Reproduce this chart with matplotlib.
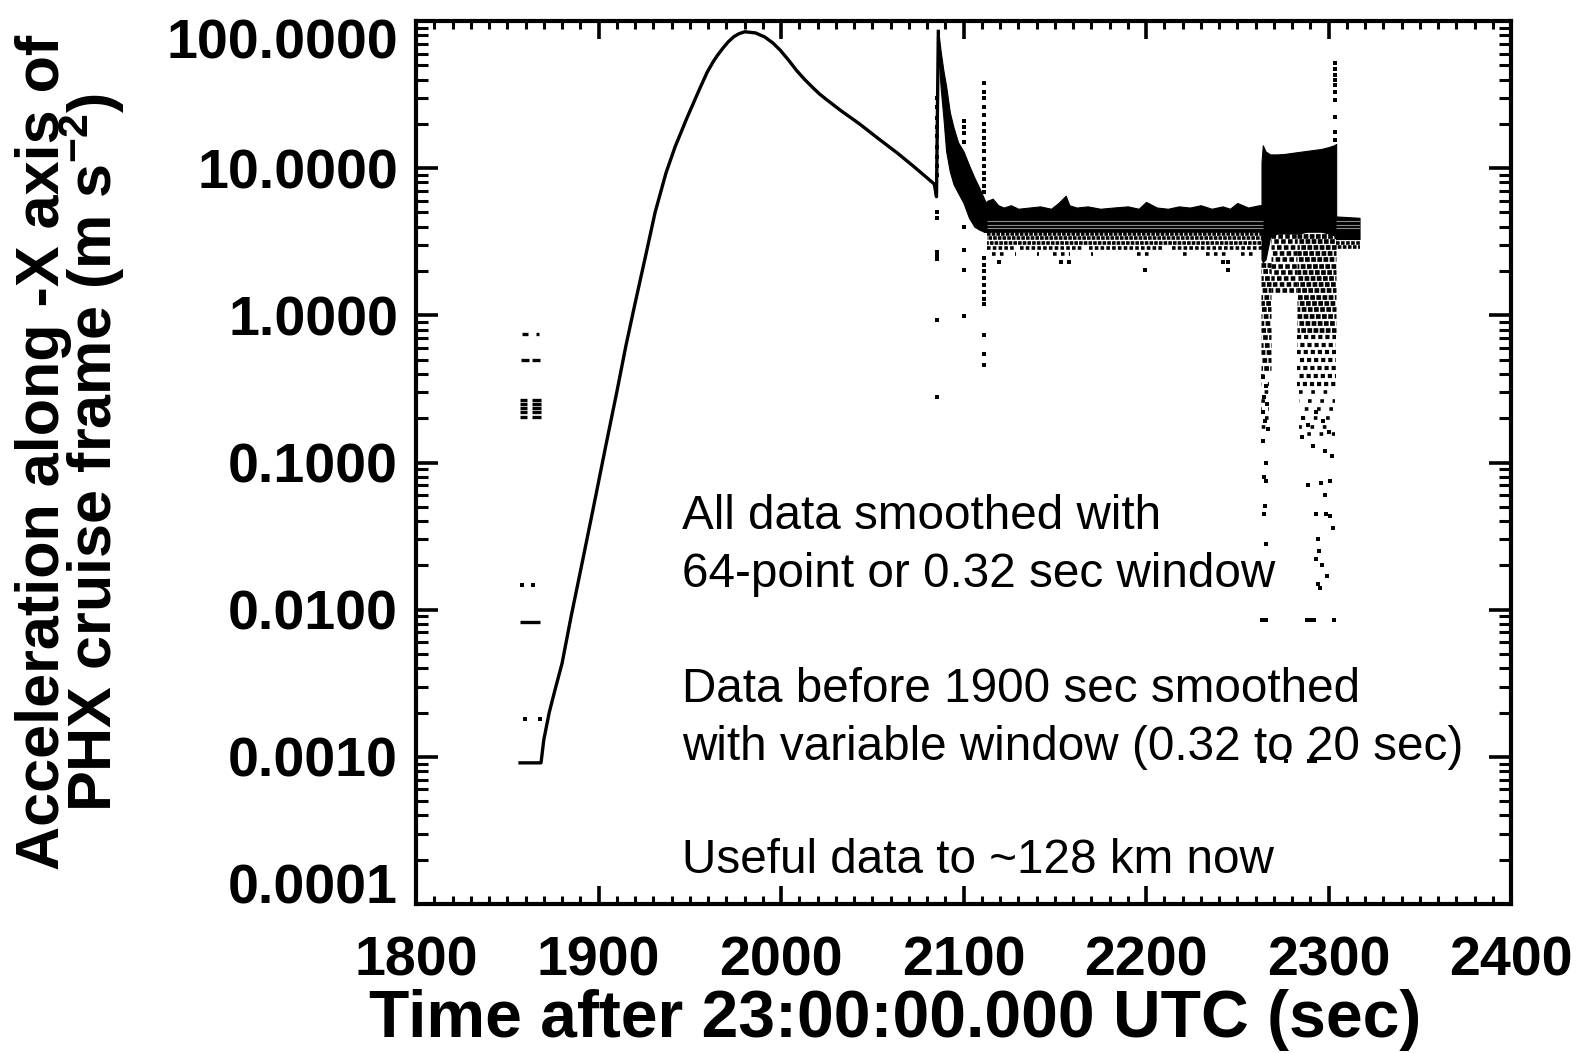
import matplotlib
matplotlib.use('Agg')
import matplotlib.pyplot as plt
import numpy as np
from matplotlib.ticker import FixedLocator, FixedFormatter, LogLocator, MultipleLocator, NullFormatter
from matplotlib.transforms import ScaledTranslation

plt.rcParams['font.family'] = ['Liberation Sans', 'DejaVu Sans']
plt.rcParams['font.weight'] = 'bold'
plt.rcParams['mathtext.fontset'] = 'custom'
plt.rcParams['mathtext.rm'] = 'Liberation Sans:bold'
plt.rcParams['mathtext.bf'] = 'Liberation Sans:bold'

# ---------------- data ----------------
xtick_values = [1800, 1900, 2000, 2100, 2200, 2300, 2400]
xtick_labels = ['1800', '1900', '2000', '2100', '2200', '2300', '2400']
ytick_values = [1e-4, 1e-3, 1e-2, 1e-1, 1, 10, 100]
ytick_labels = ['0.0001', '0.0010', '0.0100', '0.1000', '1.0000', '10.0000', '100.0000']

# main smoothed trace (time s, acceleration m/s^2)
curve_t = [1857, 1868.5, 1870, 1873, 1876, 1880, 1885, 1890, 1897, 1904,
           1910, 1915, 1920, 1926, 1931, 1937, 1942, 1948.5, 1955.6, 1959.6,
           1962.9, 1965, 1968, 1971, 1974, 1977, 1980.2, 1986, 1991, 1995.5,
           1999.5, 2004, 2008.6, 2013, 2017.7, 2021, 2025, 2033, 2043, 2053,
           2064, 2073, 2084, 2085.2, 2086.2]
curve_v = [0.00091, 0.00091, 0.0013, 0.0020, 0.0028, 0.0043, 0.0090, 0.018, 0.048, 0.13,
           0.30, 0.62, 1.2, 2.6, 5.0, 9.3, 14, 22, 35, 45,
           53, 58, 65, 72, 78, 82, 84.5, 83, 78, 71,
           63.5, 54.5, 46, 40, 35, 32, 29.2, 24.5, 20, 16,
           12.6, 10.2, 7.8, 6.4, 85]

# decaying scatter band after the spike
decay_t = [2086.2, 2087.5, 2089, 2090.5, 2092.5, 2094.5, 2097, 2100, 2103, 2106, 2109, 2111.5, 2113]
decay_hi = [85, 62, 46, 36, 24, 19, 15, 13, 10.5, 8.6, 7.2, 6.1, 5.6]
decay_lo = [60, 35, 22, 13, 9.5, 7.8, 6.8, 5.8, 4.6, 4.0, 3.8, 3.7, 3.7]

# flat noisy band
band_t = [2111, 2113, 2116, 2119, 2122, 2126, 2130, 2136, 2142, 2148, 2152, 2156, 2158, 2162,
          2168, 2175, 2182, 2190, 2196, 2200, 2206, 2212, 2218, 2224, 2230, 2236, 2242, 2246,
          2250, 2256, 2262, 2264]
band_hi = [5.5, 6.0, 6.2, 5.6, 5.4, 5.6, 5.3, 5.4, 5.5, 5.3, 5.8, 6.5, 5.6, 5.4,
           5.5, 5.3, 5.4, 5.5, 5.3, 5.9, 5.4, 5.3, 5.5, 5.4, 5.6, 5.3, 5.5, 5.3,
           5.8, 5.4, 5.6, 5.6]
band_floor = 3.7
band_stripes = [3.9, 4.1, 4.35]
band_rows = [3.55, 3.33, 3.1]
band_row_span = (2113, 2264)
row_288_segments = [(2113, 2128), (2131, 2165), (2169, 2210), (2214, 2264)]
row_26_segments = [(2115.6, 2123), (2128, 2129), (2140, 2141.5), (2149, 2158.6), (2170, 2171),
                   (2195, 2201.6), (2220.5, 2224.8), (2233, 2243.7), (2252, 2260.4)]
band_outliers = [(2119.7, 2.32), (2153.4, 2.32), (2157.6, 2.32), (2242, 2.32), (2244.7, 2.32),
                 (2199.5, 2.04), (2244.7, 2.04)]

# tail band after the burst
tail_t = [2304, 2317]
tail_hi = [4.7, 4.6]
tail_lo = [3.3, 3.3]
tail_rows = [3.1, 2.9]

# burst region
burst_t = [2263.3, 2264.0, 2265.5, 2268, 2272, 2276, 2280, 2284, 2288, 2292, 2296, 2300, 2303, 2304.2]
burst_hi = [11.0, 14.3, 13.0, 12.4, 12.4, 12.5, 12.7, 12.9, 13.1, 13.3, 13.5, 13.9, 14.3, 14.6]
burst_lo = [2.4, 2.3, 2.4, 3.4, 3.6, 3.6, 3.6, 3.6, 3.7, 3.7, 3.7, 3.6, 3.5, 3.5]
left_rows_dense = [2.2, 2.0, 1.8, 1.63, 1.48, 1.34, 1.21, 1.1, 0.99, 0.89, 0.8, 0.71, 0.63, 0.56, 0.5, 0.44]
left_rows_sparse = [0.39, 0.34, 0.3, 0.26, 0.23, 0.2, 0.175]
mid_rows = [3.45, 3.2, 2.9, 2.65, 2.4, 2.18, 1.98, 1.8, 1.63, 1.48]
right_rows_dense = [3.45, 3.2, 2.9, 2.65, 2.4, 2.18, 1.98, 1.8, 1.63, 1.48, 1.34, 1.21, 1.1,
                    0.99, 0.89, 0.8]
right_rows_mid = [0.71, 0.63, 0.56, 0.5, 0.44, 0.39, 0.34]
right_rows_sparse = [0.3, 0.26, 0.23, 0.2, 0.175, 0.155]
left_span = (2262.8, 2268.5)
mid_span = (2268.5, 2283.0)
right_span = (2283.0, 2304.2)

burst_outliers = [(2264, 0.14), (2265.5, 0.1), (2264.5, 0.08), (2266, 0.075), (2265, 0.051),
                  (2264.5, 0.045), (2265.8, 0.028), (2263.5, 0.0085), (2264.5, 0.0085),
                  (2265.5, 0.0085), (2263.5, 0.00093), (2264.5, 0.00093),
                  (2289, 0.07), (2296, 0.072), (2301, 0.075), (2298, 0.06), (2293, 0.045),
                  (2298.5, 0.045), (2301, 0.043), (2302.5, 0.036), (2294, 0.030), (2295, 0.025),
                  (2293, 0.022), (2296.5, 0.02), (2299, 0.017), (2294, 0.015), (2295.5, 0.014),
                  (2288, 0.0085), (2290, 0.0085), (2292, 0.0085), (2303, 0.0085),
                  (2276.5, 0.00093), (2289.5, 0.00093), (2291, 0.00093), (2292.8, 0.00093),
                  (2286, 0.2), (2289, 0.18), (2293, 0.22), (2297, 0.19), (2300, 0.16),
                  (2285.5, 0.15), (2291.5, 0.13), (2298, 0.12), (2302, 0.11),
                  (2264.2, 0.38), (2265.8, 0.33), (2264.8, 0.28), (2266.5, 0.25), (2264, 0.22),
                  (2265, 0.19), (2266.8, 0.17)]

# isolated vertical columns of points
col_times = [2085.3, 2100.2, 2111.2, 2303.6]
col_values = [
    [30, 26, 22, 19, 16.5, 14, 12, 10.3, 9, 5.0, 4.6, 2.7, 2.55, 2.4, 0.93, 0.28],
    [21, 19, 17.3, 15, 4.0, 2.8, 2.04, 0.99],
    [38, 33, 30, 26, 23, 20, 18, 16, 14.5, 13, 11.5, 10.3, 9.3, 8.4, 7.6, 6.9,
     2.45, 2.2, 2.0, 1.8, 1.6, 1.45, 1.3, 1.2, 0.74, 0.55, 0.46],
    [52, 47, 43, 40, 37, 33, 29, 22.4, 17.5, 15.5],
]

# early (pre-burn) clusters
pre_rows = [(0.75, 1858, 1861.6), (0.75, 1866, 1867.6),
            (0.50, 1857.5, 1862), (0.50, 1863.5, 1868),
            (0.265, 1857, 1861), (0.25, 1857, 1861), (0.235, 1857, 1861), (0.22, 1857, 1861), (0.205, 1857, 1861),
            (0.265, 1863.5, 1868.3), (0.25, 1863.5, 1868.3), (0.235, 1863.5, 1868.3), (0.22, 1863.5, 1868.3),
            (0.205, 1863.5, 1868.3),
            (0.0082, 1857, 1868)]
pre_points = [(1857.9, 0.0148), (1864, 0.0148), (1859.7, 0.0018), (1867.9, 0.0018)]

# ---------------- figure ----------------
W, H = 1583, 1053
fig = plt.figure(figsize=(W / 100, H / 100), dpi=100)
ax = fig.add_axes([416 / W, 1 - 904 / H, (1511 - 416) / W, (904 - 21) / H])
ax.set_yscale('log')
ax.set_xlim(1800, 2400)
ax.set_ylim(1e-4, 100)

K = 'black'
ax.plot(curve_t, curve_v, color=K, lw=2.4, solid_joinstyle='round', zorder=3)
ax.fill_between(decay_t, decay_lo, decay_hi, color=K, lw=0.8, zorder=2)
ax.fill_between(band_t, band_floor, band_hi, color=K, lw=0.8, zorder=2)
ax.hlines(band_stripes, band_row_span[0], band_row_span[1], colors='#8a8a8a', lw=0.8, zorder=2.5)


def dotted_rows(levels, t0, t1, on, off, lw=2.6):
    for i, lev in enumerate(levels):
        ax.hlines(lev, t0, t1, colors=K, lw=lw,
                  linestyles=[((i * 0.9) % (on + off), (on, off))], zorder=2)


dotted_rows(band_rows, band_row_span[0], band_row_span[1], 1.0, 0.3)
for a, b in row_288_segments:
    dotted_rows([2.88], a, b, 1.0, 0.6)
for a, b in row_26_segments:
    dotted_rows([2.6], a, b, 1.0, 1.2)

ax.fill_between(tail_t, tail_lo, tail_hi, color=K, lw=0.8, zorder=2)
ax.hlines(band_stripes, tail_t[0], tail_t[1], colors='#8a8a8a', lw=0.8, zorder=2.5)
dotted_rows(tail_rows, tail_t[0], tail_t[1], 1.0, 0.4)

ax.fill_between(burst_t, burst_lo, burst_hi, color=K, lw=0.8, zorder=2)
dotted_rows(left_rows_dense, left_span[0], left_span[1], 1.0, 0.28, lw=3.4)
dotted_rows(left_rows_sparse, left_span[0] + 0.3, left_span[1] - 1, 1.0, 1.8)
dotted_rows(mid_rows, mid_span[0], mid_span[1], 1.0, 0.5, lw=3.3)
dotted_rows(right_rows_dense, right_span[0], right_span[1], 1.0, 0.3, lw=3.4)
dotted_rows(right_rows_mid, right_span[0], right_span[1], 1.0, 0.7, lw=3.0)
dotted_rows(right_rows_sparse, right_span[0] + 1, right_span[1] - 0.5, 1.0, 2.4)

for lev, a, b in pre_rows:
    ax.hlines(lev, a, b, colors=K, lw=2.4, zorder=2)

pts = band_outliers + burst_outliers + pre_points
for t, vals in zip(col_times, col_values):
    pts = pts + [(t, v) for v in vals]
ax.scatter([p[0] for p in pts], [p[1] for p in pts], s=8, marker='s', c=K, lw=0, zorder=3)

# ---------------- axes styling ----------------
for sp in ax.spines.values():
    sp.set_linewidth(3.0)
ax.xaxis.set_major_locator(FixedLocator(xtick_values))
ax.xaxis.set_major_formatter(FixedFormatter(xtick_labels))
ax.xaxis.set_minor_locator(MultipleLocator(10))
ax.yaxis.set_major_locator(FixedLocator(ytick_values))
ax.yaxis.set_major_formatter(FixedFormatter(ytick_labels))
ax.yaxis.set_minor_locator(LogLocator(base=10, subs=np.arange(2, 10), numticks=30))
ax.yaxis.set_minor_formatter(NullFormatter())
ax.tick_params(axis='both', which='both', direction='in', top=True, right=True, colors=K)
ax.tick_params(axis='x', which='major', length=13, width=2.6, pad=23, labelsize=40)
ax.tick_params(axis='x', which='minor', length=5.5, width=2.2)
ax.tick_params(axis='y', which='major', length=16, width=2.6, pad=13, labelsize=40)
ax.tick_params(axis='y', which='minor', length=8.5, width=2.2)

fig.canvas.draw()
yt = ax.yaxis.get_major_ticks()
yt[-1].label1.set_transform(yt[-1].label1.get_transform() + ScaledTranslation(0, -0.17, fig.dpi_scale_trans))
yt[0].label1.set_transform(yt[0].label1.get_transform() + ScaledTranslation(0, 0.21, fig.dpi_scale_trans))

# axis titles
fig.text(895 / W, 1 - 1037 / H, 'Time after 23:00:00.000 UTC (sec)', ha='center', va='baseline',
         fontsize=47.5, fontweight='bold')
fig.text(71 / W, 1 - 452 / H,
         'Acceleration along -X axis of\n' + r'PHX cruise frame (m s$^{\mathbf{-2}}$)',
         rotation=90, ha='center', va='center', multialignment='center', linespacing=0.72,
         fontsize=44, fontweight='bold')

# annotations
notes = ['All data smoothed with', '64-point or 0.32 sec window',
         'Data before 1900 sec smoothed', 'with variable window (0.32 to 20 sec)',
         'Useful data to ~128 km now']
note_baselines = [529, 587, 702, 760, 873]
for txt, yb in zip(notes, note_baselines):
    fig.text(682 / W, 1 - yb / H, txt, ha='left', va='baseline', fontsize=34.3, fontweight='normal')

fig.savefig('out.png', dpi=100, facecolor='white')
